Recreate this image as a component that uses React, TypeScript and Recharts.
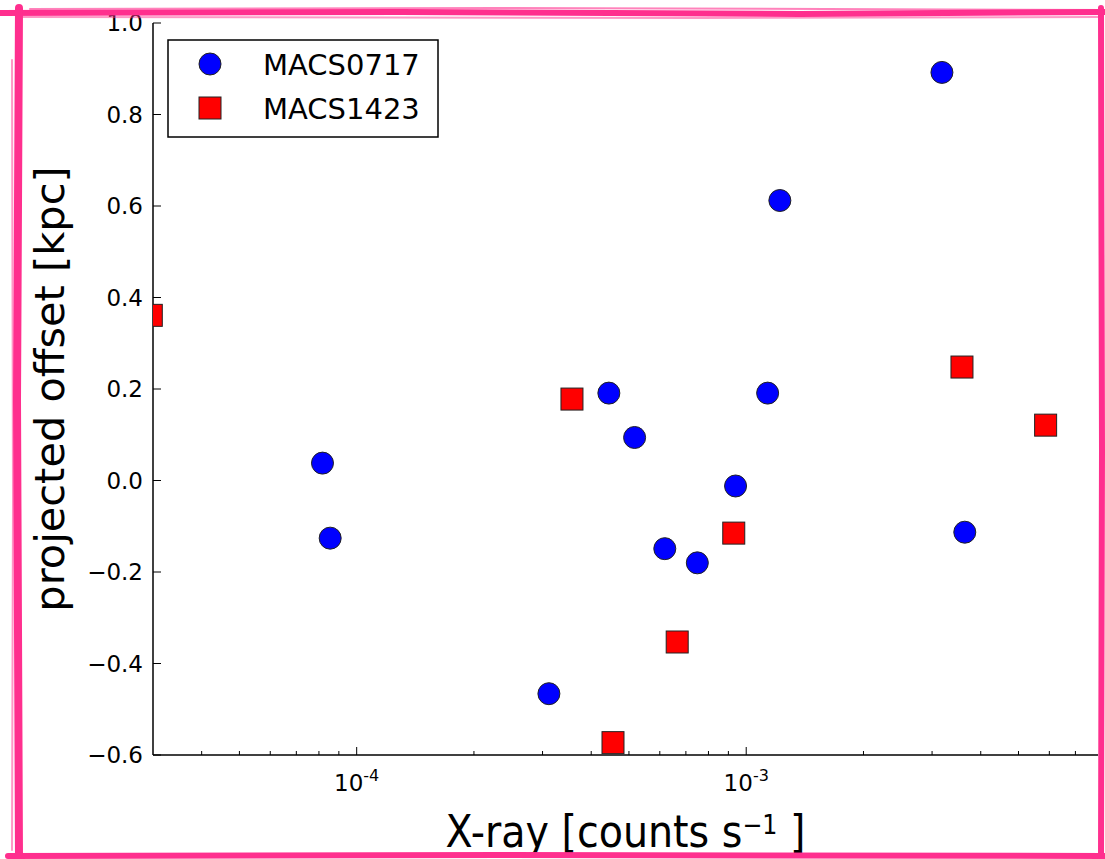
import React from 'react';
import { Label, Legend, Scatter, ScatterChart, XAxis, YAxis } from 'recharts';

// values
const macs0717Xray = [3.18e-3, 1.22e-3, 4.44e-4, 1.135e-3, 5.17e-4, 8.17e-5, 8.55e-5, 9.39e-4, 6.18e-4, 7.49e-4, 3.64e-3, 3.115e-4];
const macs0717Offset = [0.892, 0.612, 0.191, 0.191, 0.094, 0.038, -0.126, -0.012, -0.149, -0.18, -0.113, -0.466];

const macs1423Xray = [2.97e-5, 3.57e-4, 3.58e-3, 5.87e-3, 9.29e-4, 6.65e-4, 4.55e-4];
const macs1423Offset = [0.361, 0.178, 0.248, 0.121, -0.115, -0.353, -0.573];

const xTicks = [
  4e-5, 5e-5, 6e-5, 7e-5, 8e-5, 9e-5,
  1e-4, 2e-4, 3e-4, 4e-4, 5e-4, 6e-4, 7e-4, 8e-4, 9e-4,
  1e-3, 2e-3, 3e-3, 4e-3, 5e-3, 6e-3, 7e-3,
];
const xLabelled = [1e-4, 1e-3];
const yTicks = [-0.6, -0.4, -0.2, 0.0, 0.2, 0.4, 0.6, 0.8, 1.0];

const macs0717 = macs0717Xray.map((x, i) => ({ x, y: macs0717Offset[i] }));
const macs1423 = macs1423Xray.map((x, i) => ({ x, y: macs1423Offset[i] }));

const FONT = "'DejaVu Sans', sans-serif";
const PINK = '#ff2f8e';

const fmtY = (v: number) => v.toFixed(1).replace('-', '\u2212');

const BottomTick = ({ x, y, payload }: any) => {
  const v = payload.value;
  const major = xLabelled.includes(v);
  const exp = Math.round(Math.log10(v));
  return (
    <g>
      <line x1={x} x2={x} y1={y} y2={y - (major ? 8 : 4)} stroke="#000" strokeWidth={1} />
      {major && (
        <text x={x} y={y + 36} textAnchor="middle" fontSize={23} fill="#000" fontFamily={FONT}>
          <tspan>10</tspan>
          <tspan dy={-10} fontSize={16}>{String(exp)}</tspan>
        </text>
      )}
    </g>
  );
};

const TopTick = ({ x, y, payload }: any) => {
  const major = xLabelled.includes(payload.value);
  return <line x1={x} x2={x} y1={y} y2={y + (major ? 8 : 4)} stroke="#000" strokeWidth={1} />;
};

const LeftTick = ({ x, y, payload }: any) => (
  <g>
    <line x1={x} x2={x + 8} y1={y} y2={y} stroke="#000" strokeWidth={1} />
    <text x={x - 10} y={y + 8} textAnchor="end" fontSize={23} fill="#000" fontFamily={FONT}>
      {fmtY(payload.value)}
    </text>
  </g>
);

const RightTick = ({ x, y }: any) => (
  <line x1={x} x2={x - 8} y1={y} y2={y} stroke="#000" strokeWidth={1} />
);

const LegendBox = ({ payload }: any) => (
  <svg width={272} height={99} style={{ display: 'block' }}>
    <rect x={1} y={1} width={270} height={97} fill="#fff" stroke="#000" strokeWidth={1.5} />
    {(payload || []).map((entry: any, i: number) => {
      const cy = 25 + 44 * i;
      return (
        <g key={entry.value}>
          {entry.type === 'square' ? (
            <rect x={32} y={cy - 11} width={22} height={22} fill="#ff0000" stroke="#222" strokeWidth={1} />
          ) : (
            <circle cx={43} cy={cy} r={11} fill="#0000ff" stroke="#222" strokeWidth={1} />
          )}
          <text x={96} y={cy + 11} fontSize={29} fill="#000" fontFamily={FONT}>
            {entry.value}
          </text>
        </g>
      );
    })}
  </svg>
);

const PinkFrame = () => (
  <svg
    width={1105}
    height={859}
    style={{ position: 'absolute', left: 0, top: 0, pointerEvents: 'none' }}
  >
    <g stroke={PINK} strokeLinecap="round" fill="none">
      <path d="M0 13 L400 12 L800 14 L1105 12" strokeWidth={6} />
      <path d="M30 9 L500 8 L1105 10" strokeWidth={2} opacity={0.6} />
      <path d="M20 17 L700 18 L1100 17" strokeWidth={2} opacity={0.5} />
      <path d="M19 8 L17 400 L19 859" strokeWidth={8} />
      <path d="M12 60 L13 500 L12 850" strokeWidth={2} opacity={0.5} />
      <path d="M1101 8 L1102 450 L1101 859" strokeWidth={6} />
      <path d="M8 856 L500 855 L1105 856" strokeWidth={6} />
    </g>
  </svg>
);

export default function App() {
  return (
    <div style={{ position: 'absolute', left: 0, top: 0, width: 1105, height: 859, background: '#fff' }}>
      <ScatterChart width={1105} height={859} margin={{ top: 23, right: 7, bottom: 0, left: 0 }}>
        <XAxis
          xAxisId="bottom"
          type="number"
          dataKey="x"
          scale="log"
          domain={[3e-5, 8e-3]}
          allowDataOverflow
          ticks={xTicks}
          interval={0}
          tickSize={0}
          tickMargin={0}
          tickLine={false}
          tick={<BottomTick />}
          axisLine={{ stroke: '#000', strokeWidth: 1.5 }}
          height={104}
        >
          <Label
            content={({ viewBox }: any) => {
              const cx = viewBox.x + viewBox.width / 2;
              const by = viewBox.y + 92;
              return (
                <g transform={`translate(${cx},${by}) scale(0.88,1)`}>
                  <text x={0} y={0} textAnchor="middle" fontSize={45} fill="#000" fontFamily={FONT}>
                    <tspan>X-ray [counts s</tspan>
                    <tspan dy={-13} fontSize={27}>{'\u22121'}</tspan>
                    <tspan dy={13}>{' ]'}</tspan>
                  </text>
                </g>
              );
            }}
          />
        </XAxis>
        <XAxis
          xAxisId="top"
          orientation="top"
          type="number"
          dataKey="x"
          scale="log"
          domain={[3e-5, 8e-3]}
          allowDataOverflow
          ticks={xTicks}
          interval={0}
          tickSize={0}
          tickMargin={0}
          tickLine={false}
          tick={<TopTick />}
          axisLine={{ stroke: '#000', strokeWidth: 1.5 }}
          height={0}
        />
        <YAxis
          yAxisId="left"
          type="number"
          dataKey="y"
          domain={[-0.6, 1.0]}
          allowDataOverflow
          ticks={yTicks}
          interval={0}
          tickSize={0}
          tickMargin={0}
          tickLine={false}
          tick={<LeftTick />}
          axisLine={{ stroke: '#000', strokeWidth: 1.5 }}
          width={153}
        >
          <Label
            content={({ viewBox }: any) => {
              const cy = viewBox.y + viewBox.height / 2;
              return (
                <text
                  x={64}
                  y={cy}
                  transform={`rotate(-90, 64, ${cy})`}
                  textAnchor="middle"
                  fontSize={41.5}
                  fill="#000"
                  fontFamily={FONT}
                >
                  projected offset [kpc]
                </text>
              );
            }}
          />
        </YAxis>
        <YAxis
          yAxisId="right"
          orientation="right"
          type="number"
          dataKey="y"
          domain={[-0.6, 1.0]}
          allowDataOverflow
          ticks={yTicks}
          interval={0}
          tickSize={0}
          tickMargin={0}
          tickLine={false}
          tick={<RightTick />}
          axisLine={{ stroke: '#000', strokeWidth: 1.5 }}
          width={0}
        />
        <Legend
          layout="horizontal"
          verticalAlign="middle"
          align="center"
          content={<LegendBox />}
          wrapperStyle={{ position: 'absolute', left: 167, top: 39, width: 272, height: 99 }}
        />
        <Scatter
          name="MACS0717"
          data={macs0717}
          xAxisId="bottom"
          yAxisId="left"
          legendType="circle"
          fill="#0000ff"
          isAnimationActive={false}
          shape={(p: any) => (
            <circle cx={p.cx} cy={p.cy} r={11} fill="#0000ff" stroke="#222" strokeWidth={1} />
          )}
        />
        <Scatter
          name="MACS1423"
          data={macs1423}
          xAxisId="bottom"
          yAxisId="left"
          legendType="square"
          fill="#ff0000"
          isAnimationActive={false}
          shape={(p: any) => (
            <rect x={p.cx - 11} y={p.cy - 11} width={22} height={22} fill="#ff0000" stroke="#222" strokeWidth={1} />
          )}
        />
      </ScatterChart>
      <PinkFrame />
    </div>
  );
}
